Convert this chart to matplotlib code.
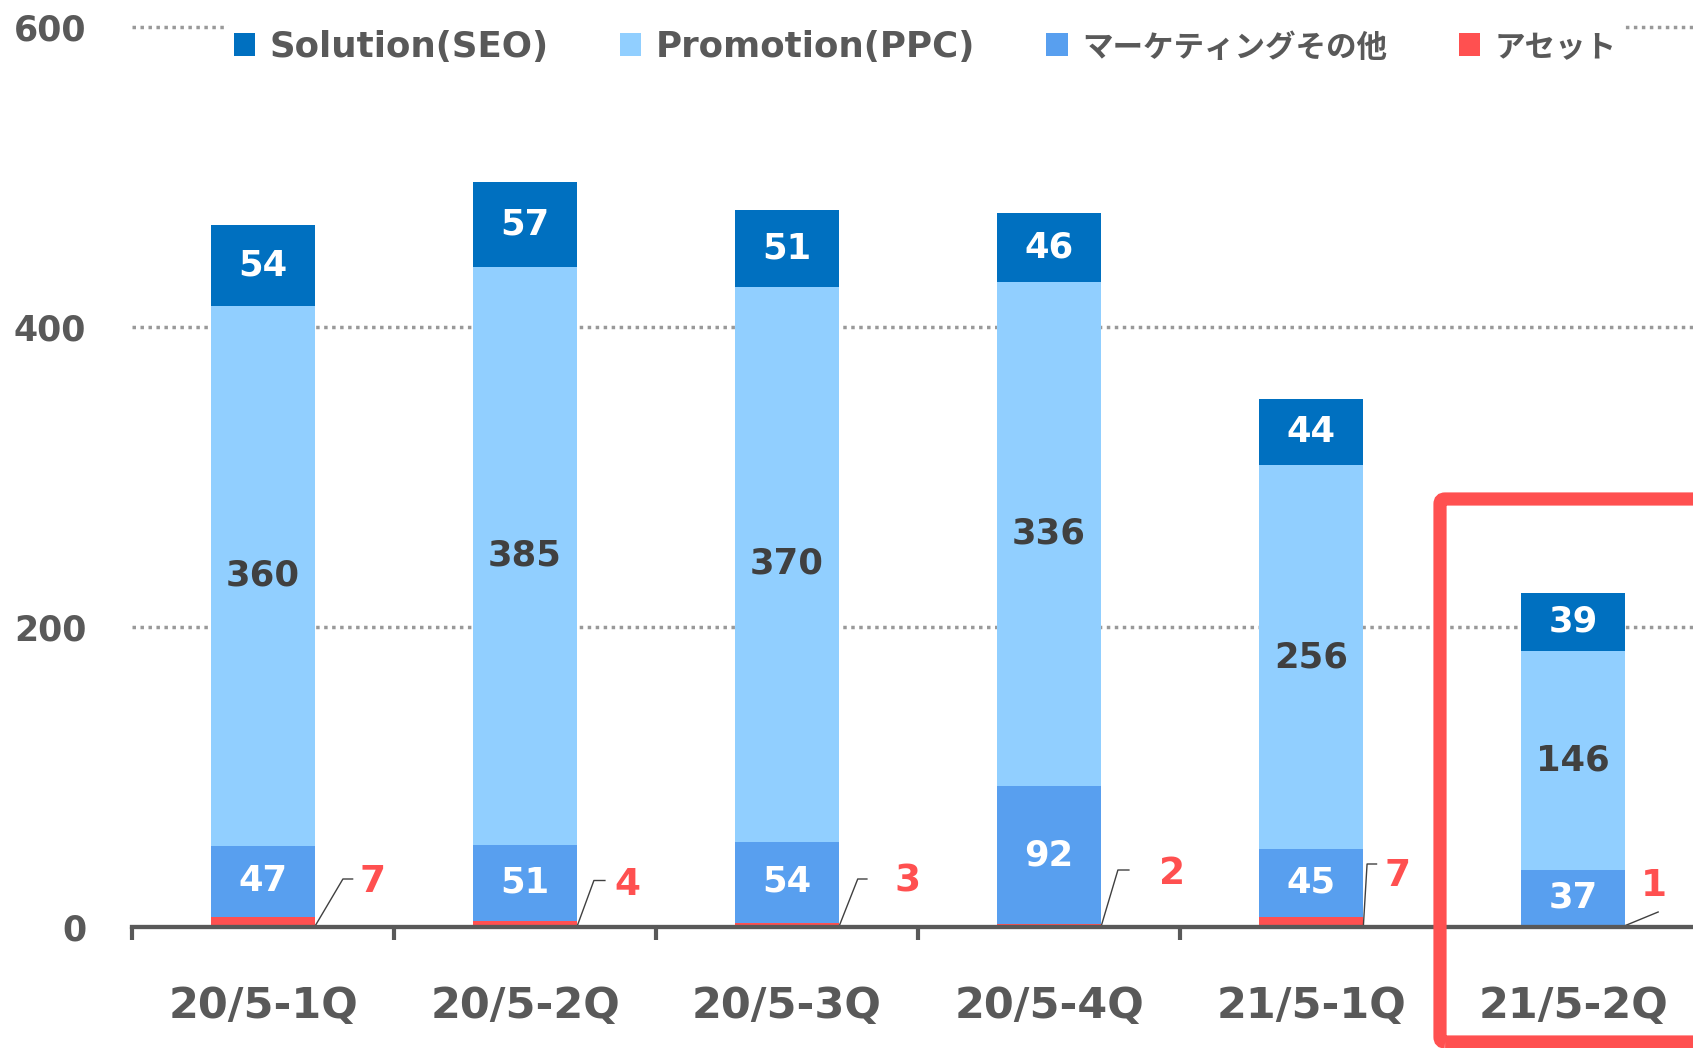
# -*- coding: UTF-8 -*-
import numpy as np
import matplotlib as mpl
import matplotlib.pyplot as plt
from matplotlib.patches import FancyBboxPatch

plt.rcParams['font.family'] = ['DejaVu Sans', 'Noto Sans CJK JP']

quarters = ['20/5-1Q', '20/5-2Q', '20/5-3Q', '20/5-4Q', '21/5-1Q', '21/5-2Q']
seo = [54, 57, 51, 46, 44, 39]
ppc = [360, 385, 370, 336, 256, 146]
marketing = [47, 51, 54, 92, 45, 37]
asset = [7, 4, 3, 2, 7, 1]
yticks = [0, 200, 400, 600]
names = ['Solution(SEO)', 'Promotion(PPC)', 'マーケティングその他', 'アセット']

c_seo, c_ppc, c_mkt, c_asset = '#0070C0', '#91CFFF', '#589FEF', '#FF5050'
gray = '#595959'

# where the small red "asset" labels sit (x offset in categories, y in data units)
label_dx = [0.42, 0.39, 0.46, 0.47, 0.33, 0.31]
label_y = [30, 28, 30, 35, 34, 27]
# leader lines: elbow point and end of the short horizontal stroke
elbow_dx = [0.305, 0.263, 0.27, 0.263, 0.214, 0.325]
elbow_y = [32, 31, 32, 38, 42, 10]
end_dx = [0.342, 0.305, 0.305, 0.305, 0.25, 0.325]

fig = plt.figure(figsize=(16.93, 10.48), dpi=100)
ax = fig.add_axes([132 / 1693, 1 - 927 / 1048, 1572 / 1693, 900 / 1048])

x = np.arange(len(quarters))
w = 0.4
b_asset = ax.bar(x, asset, w, color=c_asset, zorder=3)
bot = np.array(asset)
b_mkt = ax.bar(x, marketing, w, bottom=bot, color=c_mkt, zorder=3)
bot = bot + np.array(marketing)
b_ppc = ax.bar(x, ppc, w, bottom=bot, color=c_ppc, zorder=3)
bot = bot + np.array(ppc)
b_seo = ax.bar(x, seo, w, bottom=bot, color=c_seo, zorder=3)

ax.bar_label(b_seo, label_type='center', color='white', fontsize=25.5, fontweight='bold')
ax.bar_label(b_ppc, label_type='center', color='#404040', fontsize=25.5, fontweight='bold')
ax.bar_label(b_mkt, label_type='center', color='white', fontsize=25.5, fontweight='bold')

for i, v in enumerate(asset):
    ax.plot([i + w / 2, i + elbow_dx[i], i + end_dx[i]], [1, elbow_y[i], elbow_y[i]],
            color='#404040', lw=1, zorder=4, clip_on=False)
    ax.text(i + label_dx[i], label_y[i], str(v), color=c_asset, fontsize=27,
            fontweight='bold', ha='center', va='center')

# dotted grid
for yv in yticks[1:]:
    ax.axhline(yv, color='#999999', lw=2.5, ls=(0, (1, 1.3)), zorder=1, clip_on=False)

ax.set_xlim(-0.5, len(quarters) - 0.5)
ax.set_ylim(0, 600)
ax.set_xticks(x)
ax.set_xticklabels(quarters, fontsize=31, fontweight='bold', color=gray)
ax.set_xticks(np.arange(-0.5, len(quarters), 1), minor=True)
ax.tick_params(axis='x', which='major', length=0, pad=42)
ax.tick_params(axis='x', which='minor', length=9.5, width=3, color=gray, direction='out')
ax.set_yticks(yticks)
ax.set_yticklabels([str(t) for t in yticks], fontsize=25, fontweight='bold', color=gray)
ax.tick_params(axis='y', length=0, pad=33)

for s in ['top', 'right', 'left']:
    ax.spines[s].set_visible(False)
ax.spines['bottom'].set_color(gray)
ax.spines['bottom'].set_linewidth(3.1)
ax.spines['bottom'].set_zorder(5)

leg = fig.legend([b_seo, b_ppc, b_mkt, b_asset], names, loc='center',
                 bbox_to_anchor=(925 / 1693, 1 - 47 / 1048), ncol=4, frameon=True,
                 facecolor='white', edgecolor='none', framealpha=1,
                 prop={'size': 25.7, 'weight': 'bold'}, labelcolor=gray,
                 handlelength=0.6, handleheight=0.6, handletextpad=0.4,
                 columnspacing=2.0, borderpad=0.2)
# the Japanese labels are set a little smaller, as in the original
for t in leg.get_texts()[2:]:
    t.set_fontsize(22)

# highlight box round the latest quarter
box = FancyBboxPatch((1440 / 1693, 1 - 1042 / 1048), 265 / 1693, 543 / 1048,
                     boxstyle='round,pad=0,rounding_size=0.003', mutation_aspect=1693 / 1048,
                     transform=fig.transFigure, fill=False, ec=c_asset, lw=9.5,
                     clip_on=False, zorder=10)
fig.add_artist(box)

fig.savefig('out.png', dpi=100)
